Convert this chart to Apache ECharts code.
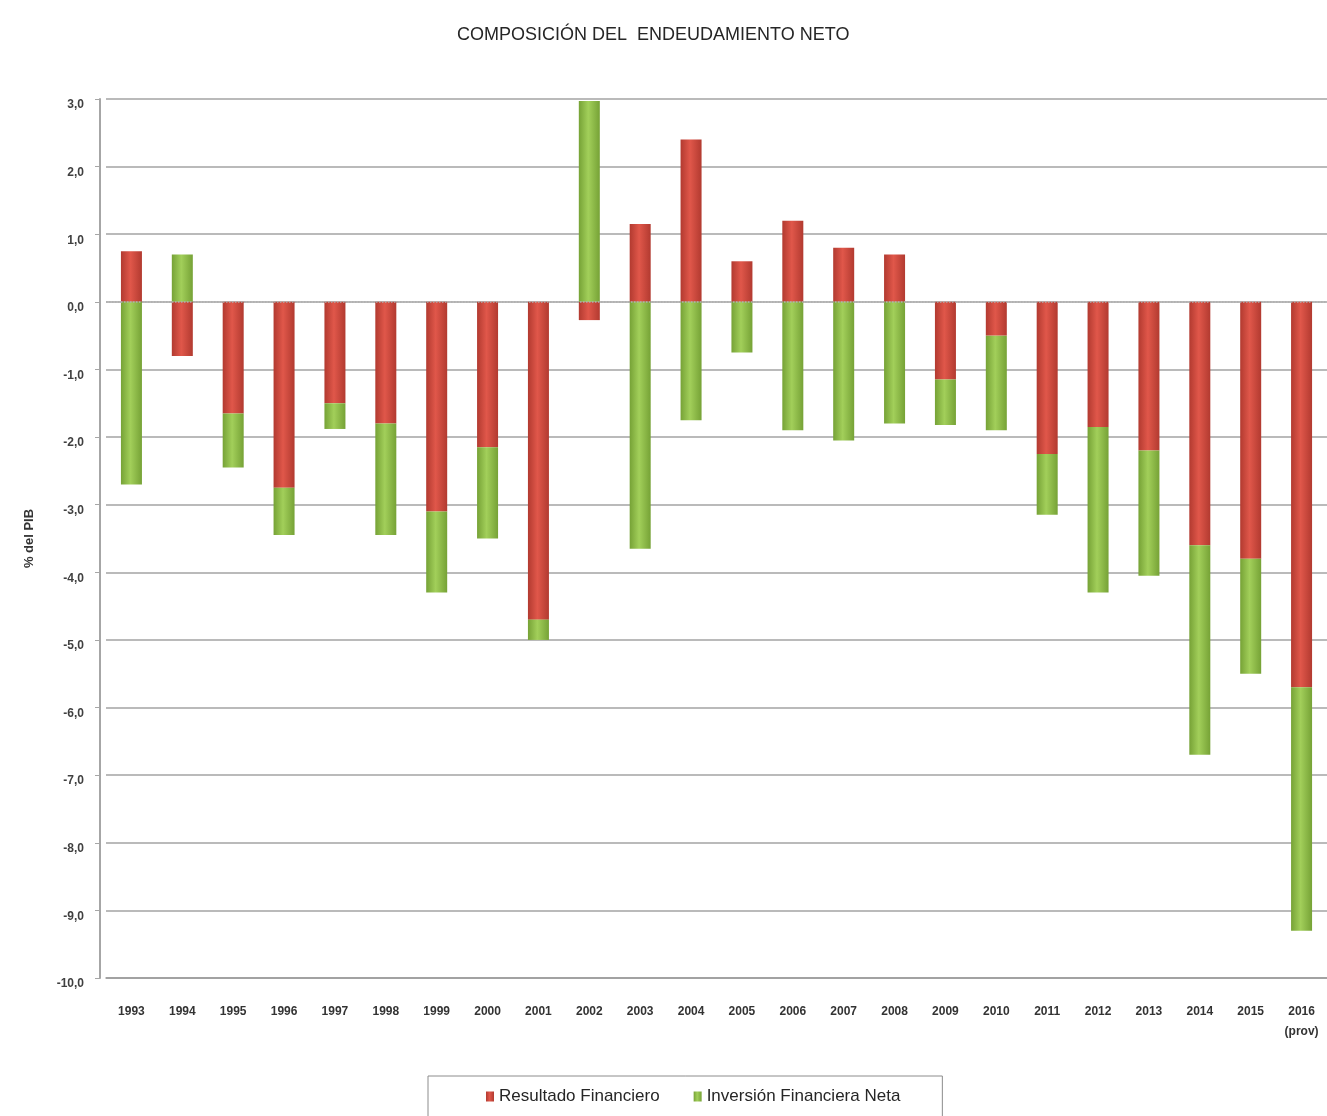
<!DOCTYPE html>
<html>
<head>
<meta charset="utf-8">
<title>Composición del endeudamiento neto</title>
<script src="https://cdn.jsdelivr.net/npm/echarts@6/dist/echarts.min.js"></script>
<style>
  html, body { margin: 0; padding: 0; background: #ffffff; }
  #chart { width: 1327px; height: 1116px; }
</style>
</head>
<body>
<div id="chart"></div>
<script>
// Years (2016 is provisional)
var years = ['1993', '1994', '1995', '1996', '1997', '1998', '1999', '2000', '2001', '2002',
  '2003', '2004', '2005', '2006', '2007', '2008', '2009', '2010', '2011', '2012',
  '2013', '2014', '2015', '2016\n(prov)'];

// Resultado Financiero, % del PIB
var resultadoFinanciero = [0.75, -0.8, -1.65, -2.75, -1.5, -1.8, -3.1, -2.15, -4.7, -0.27,
  1.15, 2.4, 0.6, 1.2, 0.8, 0.7, -1.15, -0.5, -2.25, -1.85,
  -2.2, -3.6, -3.8, -5.7];

// Inversión Financiera Neta, % del PIB
var inversionFinanciera = [-2.7, 0.7, -0.8, -0.7, -0.38, -1.65, -1.2, -1.35, -0.3, 2.97,
  -3.65, -1.75, -0.75, -1.9, -2.05, -1.8, -0.67, -1.4, -0.9, -2.45,
  -1.85, -3.1, -1.7, -3.6];

var yMin = -10, yMax = 3, yStep = 1;

// Horizontal shading that gives the bars a cylindrical look
function cylinder(edge, mid) {
  return {
    type: 'linear', x: 0, y: 0, x2: 1, y2: 0,
    colorStops: [
      { offset: 0, color: edge },
      { offset: 0.45, color: mid },
      { offset: 1, color: edge }
    ]
  };
}

var chart = echarts.init(document.getElementById('chart'), null, { renderer: 'canvas' });

chart.setOption({
  backgroundColor: '#ffffff',
  animation: false,
  title: {
    text: 'COMPOSICIÓN DEL  ENDEUDAMIENTO NETO',
    left: 452,
    top: 21,
    textStyle: {
      fontFamily: 'Liberation Sans Narrow, Liberation Sans, sans-serif',
      fontSize: 18,
      fontWeight: 'normal',
      color: '#262626'
    }
  },
  legend: {
    left: 428,
    top: 1076,
    padding: [12, 42, 16, 58],
    itemGap: 34,
    itemWidth: 8,
    itemHeight: 10,
    borderColor: '#8c8c8c',
    borderWidth: 1,
    icon: 'rect',
    textStyle: {
      fontFamily: 'Liberation Sans Narrow, Liberation Sans, sans-serif',
      fontSize: 17,
      color: '#262626'
    },
    data: ['Resultado Financiero', 'Inversión Financiera Neta']
  },
  grid: {
    left: 106,
    right: 0,
    top: 99,
    bottom: 138
  },
  xAxis: {
    type: 'category',
    data: years,
    axisLine: { onZero: false, lineStyle: { color: '#9a9a9a', width: 1.5 } },
    axisTick: { show: false },
    axisLabel: {
      margin: 24,
      fontFamily: 'Liberation Sans Narrow, Liberation Sans, sans-serif',
      fontSize: 12,
      fontWeight: 'bold',
      color: '#333333',
      lineHeight: 20
    }
  },
  yAxis: {
    type: 'value',
    min: yMin,
    max: yMax,
    interval: yStep,
    offset: 6,
    name: '% del PIB',
    nameLocation: 'middle',
    nameGap: 64,
    nameRotate: 90,
    nameTextStyle: {
      fontFamily: 'Liberation Sans Narrow, Liberation Sans, sans-serif',
      fontSize: 13,
      fontWeight: 'bold',
      color: '#333333'
    },
    axisLine: { show: true, lineStyle: { color: '#a6a6a6', width: 2 } },
    axisTick: { show: true, length: 5, lineStyle: { color: '#a6a6a6' } },
    axisLabel: {
      margin: 16,
      verticalAlign: 'top',
      fontFamily: 'Liberation Sans, sans-serif',
      fontSize: 12,
      fontWeight: 'bold',
      color: '#404040',
      formatter: function (v) { return v.toFixed(1).replace('.', ','); }
    },
    splitLine: { show: true, lineStyle: { color: '#a3a3a3', width: 1.5 } }
  },
  series: [
    {
      name: 'Resultado Financiero',
      type: 'bar',
      stack: 'total',
      barWidth: 21,
      data: resultadoFinanciero,
      itemStyle: { color: cylinder('#b23a30', '#e0574a') },
      markLine: {
        silent: true,
        symbol: 'none',
        label: { show: false },
        lineStyle: { color: '#b0b0b0', type: 'dotted', width: 1.5 },
        data: [{ yAxis: 0 }]
      }
    },
    {
      name: 'Inversión Financiera Neta',
      type: 'bar',
      stack: 'total',
      barWidth: 21,
      data: inversionFinanciera,
      itemStyle: { color: cylinder('#76a236', '#a2cf5a') }
    }
  ],
  color: ['#d9473c', '#92c145']
});
</script>
</body>
</html>
